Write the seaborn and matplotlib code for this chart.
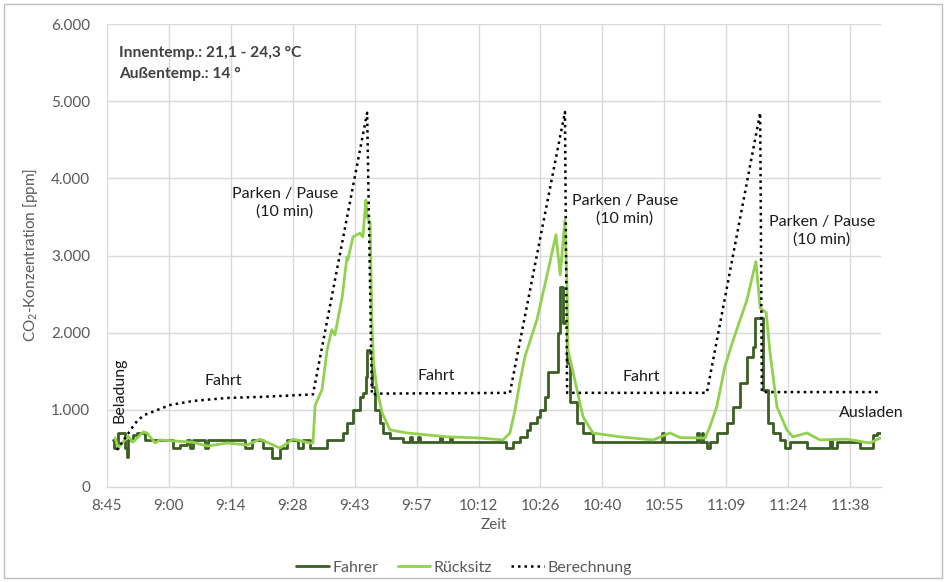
import matplotlib
matplotlib.use("Agg")
import matplotlib.pyplot as plt
import matplotlib.patches as mpatches
import pandas as pd
import seaborn as sns

# -----------------------------
# Data (time in minutes since midnight, CO2 in ppm)
# -----------------------------
fahrer_t = [527.0, 527.3, 528.2, 529.8, 530.3, 530.5, 531.6, 532.6, 534.4,
            541.0, 542.6, 544.2, 544.9, 545.6, 548.4, 549.1, 557.7, 559.3,
            561.9, 564.0, 565.8, 567.5, 570.0, 571.2, 572.8,
            576.8, 580.5, 581.4, 582.8, 584.4, 585.1, 585.8, 586.1, 586.8,
            587.2, 587.9, 589.1, 589.8, 591.4, 594.4,
            596.1, 596.5, 597.9, 598.3, 603.0, 603.4, 605.4, 605.8,
            618.5, 620.0, 621.6, 623.3, 624.0, 625.6, 626.3, 627.5, 628.2,
            630.5, 631.0, 631.7, 632.6, 633.3, 634.9, 636.3, 638.6,
            654.7, 655.1, 662.8, 663.2, 663.9, 664.3, 665.1, 665.8, 667.4,
            669.8, 671.2, 672.8, 674.4, 675.8, 676.3, 678.2, 679.3, 680.5,
            682.1, 683.3, 684.4, 688.4, 693.7, 694.2, 695.4, 700.7, 703.7,
            704.7, 705.8]
fahrer_v = [610, 505, 700, 505, 390, 610, 675, 700, 610,
            505, 545, 610, 505, 610, 505, 610, 505, 610,
            505, 380, 505, 610, 505, 610, 505,
            610, 700, 830, 1000, 1170, 1220, 1430, 1780, 1740,
            1300, 1000, 830, 700, 640, 585,
            650, 585, 650, 585, 650, 585, 650, 585,
            505, 585, 650, 740, 830, 910, 1000, 1170, 1490,
            2000, 2590, 2130, 1610, 1100, 830, 700, 585,
            700, 585, 700, 585, 700, 585, 505, 585, 700,
            830, 1040, 1350, 1690, 1820, 2190, 1260, 830, 700,
            610, 505, 585, 505, 610, 505, 585, 505, 675,
            700, 700]

ruecksitz_t = [527.5, 528.2, 530.5, 531.6, 534.0, 534.9, 536.8, 537.9, 545.6,
               548.9, 553.5, 558.2, 561.2, 565.8, 568.9, 572.8, 573.5,
               574.0, 575.6, 576.8, 577.9, 578.6, 580.3, 581.4, 581.6, 582.8,
               584.4, 585.1, 585.8, 586.1, 586.8, 587.2, 587.6, 588.4, 589.6,
               591.4, 595.4, 604.7, 612.3, 617.7,
               619.3, 620.5, 621.6, 622.8, 625.6, 628.2, 630.0, 631.0, 632.1,
               632.6, 632.8, 634.9, 636.3, 638.6, 644.9, 652.6, 656.5, 658.9,
               664.7, 665.8, 667.4, 669.3, 671.2, 674.4, 676.5, 677.5, 678.9,
               679.8, 681.4, 683.7, 685.1, 688.4, 691.4, 697.7, 703.0, 705.4]
ruecksitz_v = [635, 505, 660, 580, 713, 700, 570, 610, 580,
               530, 570, 545, 620, 505, 620, 570, 570,
               1060, 1260, 1780, 2040, 1970, 2460, 2980, 2940, 3240,
               3290, 3240, 3720, 3500, 3420, 2130, 1610, 1260, 960,
               740, 700, 650, 635, 610,
               700, 1000, 1350, 1690, 2170, 2810, 3270, 2750, 3460,
               2560, 1780, 1260, 910, 700, 650, 610, 700, 640,
               635, 780, 1040, 1560, 1900, 2420, 2920, 2320, 2260,
               1740, 1040, 740, 650, 700, 610, 620, 570, 635]

berechnung_t = [527.9, 529.8, 531.4, 532.8, 534.4, 540.3, 545.6, 553.5, 561.2,
                573.5, 586.1, 587.2, 588.5, 619.3, 632.1, 632.6, 665.1, 677.5,
                677.9, 705.6]
berechnung_v = [480, 635, 765, 870, 935, 1063, 1115, 1154, 1167,
                1200, 4850, 1195, 1210, 1220, 4860, 1220, 1220, 4850,
                1230, 1230]

x_tick_labels = ["8:45", "9:00", "9:14", "9:28", "9:43", "9:57", "10:12",
                 "10:26", "10:40", "10:55", "11:09", "11:24", "11:38"]
y_ticks = [0, 1000, 2000, 3000, 4000, 5000, 6000]
y_tick_labels = ["0", "1.000", "2.000", "3.000", "4.000", "5.000", "6.000"]

X_MIN = 525.6
X_STEP = 14.4
X_MAX = 705.6

FAHRER_COLOR = "#3B5E22"
RUECK_COLOR = "#92D050"
GRAY = "#595959"

# -----------------------------
# Figure
# -----------------------------
sns.set_theme(style="white")
plt.rcParams["font.family"] = ["Lato", "DejaVu Sans"]
plt.rcParams["mathtext.fontset"] = "custom"
plt.rcParams["mathtext.rm"] = "Lato"

fig = plt.figure(figsize=(9.46, 5.82), dpi=100)
ax = fig.add_axes([107 / 946, 1 - 487 / 582, (881 - 107) / 946, (487 - 24) / 582])

df_f = pd.DataFrame({"t": fahrer_t, "v": fahrer_v})
df_r = pd.DataFrame({"t": ruecksitz_t, "v": ruecksitz_v})
df_b = pd.DataFrame({"t": berechnung_t, "v": berechnung_v})

sns.lineplot(data=df_f, x="t", y="v", ax=ax, color=FAHRER_COLOR, lw=2.0,
             drawstyle="steps-post", estimator=None, sort=False, label="Fahrer")
sns.lineplot(data=df_r, x="t", y="v", ax=ax, color=RUECK_COLOR, lw=2.0,
             estimator=None, sort=False, label="Rücksitz")
sns.lineplot(data=df_b, x="t", y="v", ax=ax, color="black", lw=1.8,
             linestyle=(0, (1, 1.6)), estimator=None, sort=False,
             label="Berechnung")

ax.set_xlim(X_MIN, X_MAX)
ax.set_ylim(0, 6000)
ax.set_xticks([X_MIN + i * X_STEP for i in range(len(x_tick_labels))])
ax.set_xticklabels(x_tick_labels)
ax.set_yticks(y_ticks)
ax.set_yticklabels(y_tick_labels)
ax.tick_params(axis="both", length=0, colors=GRAY, labelsize=11)
ax.tick_params(axis="x", pad=9)
ax.tick_params(axis="y", pad=12)

ax.grid(True, color="#D9D9D9", lw=1)
ax.set_axisbelow(True)
for s in ["top", "right", "left"]:
    ax.spines[s].set_visible(False)
ax.spines["bottom"].set_color("#D9D9D9")
ax.spines["bottom"].set_linewidth(1)

ax.set_xlabel("Zeit", color=GRAY, fontsize=11, labelpad=3)
ax.set_ylabel("CO$_\\mathregular{2}$-Konzentration [ppm]", color=GRAY,
              fontsize=11, labelpad=8)

# -----------------------------
# Annotations
# -----------------------------
def px(x, y):
    # figure-pixel helper for text placement
    return x / 946, 1 - y / 582

tx = dict(transform=fig.transFigure, fontsize=11.5, color="#1a1a1a")
fig.text(*px(119, 53), "Innentemp.: 21,1 - 24,3 °C", ha="left", va="center",
         fontweight="bold", transform=fig.transFigure, fontsize=11.2, color="#404040")
fig.text(*px(119, 74), "Außentemp.: 14 °", ha="left", va="center",
         fontweight="bold", transform=fig.transFigure, fontsize=11.2, color="#404040")

for cx, cy in [(285, 203), (625, 210), (822, 231)]:
    fig.text(*px(cx, cy), "Parken / Pause\n(10 min)", ha="center", va="center",
             linespacing=1.3, **tx)

for cx, cy in [(223, 381), (436, 376), (641, 377)]:
    fig.text(*px(cx, cy), "Fahrt", ha="center", va="center", **tx)

fig.text(*px(119, 390), "Beladung", ha="center", va="center", rotation=90, **tx)
fig.text(*px(871, 413), "Ausladen", ha="center", va="center", **tx)

# -----------------------------
# Legend + border
# -----------------------------
handles, labels = ax.get_legend_handles_labels()
ax.legend(handles, labels, loc="center", bbox_to_anchor=px(464, 568),
          bbox_transform=fig.transFigure, ncol=3, frameon=False, fontsize=11.5,
          labelcolor=GRAY, handlelength=2.05, handletextpad=0.2, columnspacing=1.2)

fig.patches.append(mpatches.Rectangle((4 / 946, 4 / 582), 1 - 8 / 946, 1 - 8 / 582,
                                      transform=fig.transFigure, fill=False,
                                      edgecolor="#BFBFBF", lw=1))

fig.savefig("out.png", dpi=100)
plt.close(fig)
